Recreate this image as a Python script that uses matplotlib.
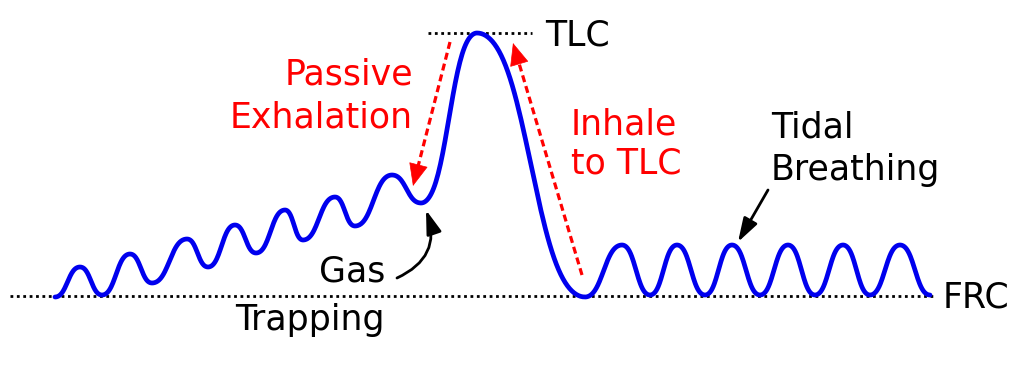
import numpy as np
import matplotlib
matplotlib.use("Agg")
import matplotlib.pyplot as plt

# turning points of the volume trace (pixel coords of the picture, y down)
ext_x = [55, 80, 102, 130, 152, 187, 208, 235, 256, 285, 303, 335, 355, 392, 421,
         477, 585,
         622, 650, 677, 705, 732, 760, 788, 815, 843, 870, 900, 930]
ext_y = [297, 267, 295, 254, 283, 239, 267, 225, 253, 210, 240, 197, 226, 175, 203,
         33, 297,
         245, 295, 245, 295, 245, 295, 245, 295, 245, 295, 245, 295]

frc_y = 296
frc_span = (10, 935)
tlc_y = 33
tlc_span = (428, 532)

# build the smooth trace between consecutive turning points
xs, ys = [], []
for i in range(len(ext_x) - 1):
    t = np.linspace(0, 1, 50)
    s = (1 - np.cos(np.pi * t)) / 2
    s = 0.6 * s + 0.4 * (1 - np.cos(np.pi * s)) / 2  # a bit boxier, like the drawing
    xs.append(ext_x[i] + (ext_x[i + 1] - ext_x[i]) * t)
    ys.append(ext_y[i] + (ext_y[i + 1] - ext_y[i]) * s)
xs = np.concatenate(xs)
ys = np.concatenate(ys)

fig = plt.figure(figsize=(10.24, 3.75), dpi=100)
ax = fig.add_axes([0, 0, 1, 1])
ax.set_xlim(0, 1024)
ax.set_ylim(375, 0)
ax.axis("off")

dots = (0, (1, 1.3))
ax.plot(frc_span, [frc_y, frc_y], color="black", lw=2.0, ls=dots)
ax.plot(tlc_span, [tlc_y, tlc_y], color="black", lw=2.0, ls=dots)
ax.plot(xs, ys, color="#0000ee", lw=3.4, solid_capstyle="round")

fs = 25
ax.text(545, 36, "TLC", fontsize=fs, va="center", ha="left")
ax.text(943, 297, "FRC", fontsize=fs, va="center", ha="left")
ax.text(413, 96, "Passive\nExhalation", fontsize=fs, color="red",
        va="center", ha="right", multialignment="right", linespacing=1.3)
ax.text(571, 144, "Inhale\nto TLC", fontsize=fs, color="red",
        va="center", ha="left", linespacing=1.2)
ax.text(771, 149, "Tidal\nBreathing", fontsize=fs, va="center", ha="left",
        linespacing=1.3)
ax.text(385, 272, "Gas", fontsize=fs, va="center", ha="right")
ax.text(385, 320, "Trapping", fontsize=fs, va="center", ha="right")


def dashed_arrow(tail, tip, color="red"):
    # dashed shaft plus a solid head, so the head is not cut by the dashes
    tail = np.array(tail, float)
    tip = np.array(tip, float)
    d = (tip - tail) / np.hypot(*(tip - tail))
    neck = tip - d * 12
    ax.plot([tail[0], neck[0]], [tail[1], neck[1]], color=color, lw=2.3,
            ls=(0, (2.2, 1.3)))
    ax.annotate("", xy=tuple(tip), xytext=tuple(tip - d * 14),
                arrowprops=dict(arrowstyle="-|>,head_length=0.75,head_width=0.32",
                                color=color, lw=0.5, shrinkA=0, shrinkB=0,
                                mutation_scale=20))


dashed_arrow((450, 42), (413, 186))
dashed_arrow((582, 275), (513, 43))

blk_arrow = dict(arrowstyle="-|>,head_length=0.85,head_width=0.27", color="black",
                 lw=2.0, shrinkA=0, shrinkB=0, mutation_scale=17)
ax.annotate("", xy=(426, 210), xytext=(397, 278),
            arrowprops=dict(blk_arrow, connectionstyle="arc3,rad=0.45"))
ax.annotate("", xy=(738, 242), xytext=(768, 190), arrowprops=blk_arrow)

fig.savefig("out.png", dpi=100)
